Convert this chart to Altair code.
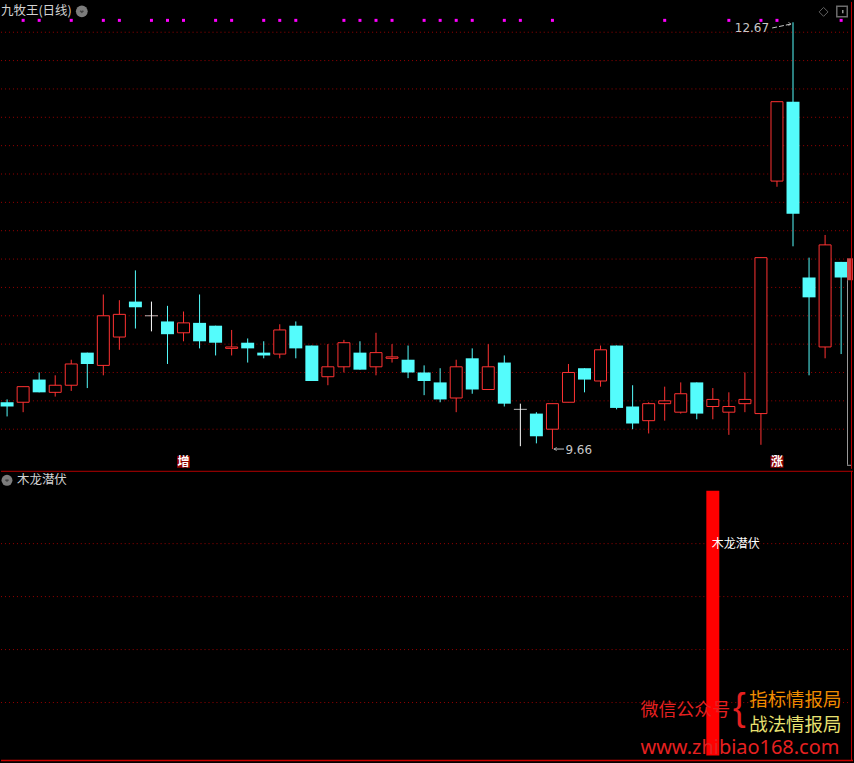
import altair as alt
import pandas as pd

# ---- daily OHLC, oldest first ----
opens = [9.99, 9.99, 10.15, 10.06, 10.11, 10.34, 10.25, 10.45, 10.70, 10.60,
         10.56, 10.48, 10.55, 10.53, 10.37, 10.41, 10.34, 10.33, 10.53, 10.39,
         10.17, 10.24, 10.34, 10.24, 10.30, 10.29, 10.20, 10.13, 10.02, 10.30,
         10.08, 10.27, 9.94, 9.91, 9.80, 9.99, 10.23, 10.14, 10.39, 9.96,
         9.86, 9.98, 9.92, 10.13, 9.96, 9.92, 9.98, 9.91, 11.55, 12.11,
         10.87, 10.38, 10.98]
highs = [10.01, 10.10, 10.20, 10.18, 10.29, 10.34, 10.75, 10.71, 10.92, 10.70,
         10.67, 10.63, 10.75, 10.53, 10.50, 10.44, 10.42, 10.54, 10.56, 10.39,
         10.40, 10.43, 10.42, 10.48, 10.40, 10.39, 10.25, 10.23, 10.29, 10.37,
         10.40, 10.32, 9.98, 9.92, 9.98, 10.26, 10.23, 10.39, 10.39, 10.11,
         9.99, 10.10, 10.13, 10.13, 10.09, 10.06, 10.20, 11.01, 12.11, 12.67,
         11.01, 11.17, 10.98]
lows = [9.89, 9.92, 10.06, 10.03, 10.07, 10.09, 10.18, 10.36, 10.51, 10.49,
        10.26, 10.42, 10.37, 10.32, 10.32, 10.27, 10.30, 10.30, 10.30, 10.14,
        10.11, 10.20, 10.22, 10.18, 10.27, 10.16, 10.04, 9.99, 9.92, 10.05,
        10.08, 9.96, 9.68, 9.70, 9.66, 9.99, 10.06, 10.10, 9.94, 9.80,
        9.77, 9.86, 9.91, 9.87, 9.87, 9.76, 9.92, 9.69, 11.51, 11.09,
        10.18, 10.30, 10.33]
closes = [9.96, 10.10, 10.06, 10.11, 10.26, 10.26, 10.60, 10.61, 10.66, 10.60,
          10.47, 10.55, 10.42, 10.41, 10.38, 10.37, 10.32, 10.50, 10.37, 10.14,
          10.24, 10.41, 10.22, 10.34, 10.31, 10.20, 10.14, 10.01, 10.24, 10.08,
          10.24, 9.98, 9.94, 9.75, 9.98, 10.20, 10.15, 10.36, 9.95, 9.84,
          9.98, 10.00, 10.05, 9.91, 10.01, 9.96, 10.01, 11.01, 12.11, 11.32,
          10.73, 11.10, 10.87]

# magenta signal row along the top of the price panel
dot_flags = [0, 1, 1, 0, 1, 0, 1, 1, 0, 1,
             1, 1, 0, 1, 1, 0, 1, 1, 1, 0,
             0, 1, 1, 1, 1, 0, 1, 1, 1, 1,
             0, 1, 1, 0, 1, 0, 0, 0, 0, 0,
             0, 1, 0, 0, 0, 1, 0, 1, 1, 0,
             0, 0, 1]

# 木龙潜伏 indicator value per day
signal_vals = [0] * 44 + [5] + [0] * 8

# tags under the candles
tag_index = [11, 48]
tag_text = ["增", "涨"]

# horizontal guide levels
price_grid = [9.8, 10.0, 10.2, 10.4, 10.6, 10.8, 11.0, 11.2, 11.4, 11.6,
              11.8, 12.0, 12.2, 12.4, 12.6]
signal_grid = [1, 2, 3, 4]

TITLE_TOP = "九牧王(日线)"
TITLE_BOT = "木龙潜伏"

W = 854
TOP_H = 468
BOT_H = 295
BASE_Y = 290  # bottom frame line of the indicator panel

UP = "#FF3232"
DOWN = "#54FCFC"
FLAT = "#FFFFFF"
GRID = "#9A0000"
LABEL = "#C8C8C8"
CJK = "Noto Sans CJK SC"

df = pd.DataFrame({
    "i": list(range(len(opens))),
    "open": opens, "high": highs, "low": lows, "close": closes,
    "dot": dot_flags, "sig": signal_vals,
})
df["dir"] = ["up" if c > o else ("down" if c < o else "flat")
             for o, c in zip(opens, closes)]

x_scale = alt.Scale(domain=[-0.38, 52.74], nice=False, zero=False, padding=0)
X = alt.X("i:Q", scale=x_scale, axis=None)
p_scale = alt.Scale(domain=[9.5206, 12.814], nice=False, zero=False, padding=0)
s_scale = alt.Scale(domain=[-0.181, 5.375], nice=False, zero=False, padding=0)
dir_color = alt.Color("dir:N", legend=None,
                      scale=alt.Scale(domain=["up", "down", "flat"], range=[UP, DOWN, FLAT]))

base = alt.Chart(df)

# ---------------- price panel ----------------
grid_top = alt.Chart(pd.DataFrame({"p": price_grid})).mark_rule(
    color=GRID, strokeWidth=1, strokeDash=[1, 3]
).encode(y=alt.Y("p:Q", scale=p_scale, axis=None), x=alt.value(0), x2=alt.value(850))

wicks = base.mark_rule(strokeWidth=1).encode(
    x=X, y=alt.Y("low:Q", scale=p_scale, axis=None), y2="high:Q", color=dir_color)

up_bodies = base.transform_filter("datum.dir == 'up'").mark_bar(
    size=12, orient="vertical", fill="#000000", stroke=UP, strokeWidth=1
).encode(x=X, y=alt.Y("open:Q", scale=p_scale, axis=None), y2="close:Q")

down_bodies = base.transform_filter("datum.dir == 'down'").mark_bar(
    size=13, orient="vertical", color=DOWN
).encode(x=X, y=alt.Y("open:Q", scale=p_scale, axis=None), y2="close:Q")

flat_bodies = base.transform_filter("datum.dir == 'flat'").mark_tick(
    orient="horizontal", size=13, thickness=1, color=FLAT
).encode(x=X, y=alt.Y("close:Q", scale=p_scale, axis=None))

dots = base.transform_filter("datum.dot == 1").mark_square(
    size=9, color="#FF00FF", opacity=1
).encode(x=X, y=alt.value(18.5))

tags_df = pd.DataFrame({"i": tag_index, "t": tag_text})
tag_box = alt.Chart(tags_df).mark_bar(size=13, orient="vertical", color="#8C0000").encode(
    x=X, y=alt.value(455), y2=alt.value(467))
tag_txt = alt.Chart(tags_df).mark_text(
    font=CJK, fontSize=12, fontWeight="bold", color="#FFFFFF", baseline="middle"
).encode(x=X, text="t:N", y=alt.value(461))

# extreme price callouts
i_hi = highs.index(max(highs))
i_lo = lows.index(min(lows))
ext = pd.DataFrame({
    "i": [i_hi, i_lo], "p": [highs[i_hi], lows[i_lo]],
    "label": [f"{highs[i_hi]:.2f}", f"{lows[i_lo]:.2f}"], "kind": ["hi", "lo"],
})
ext_base = alt.Chart(ext)
hi_text = ext_base.transform_filter("datum.kind == 'hi'").mark_text(
    align="right", baseline="middle", dx=-24, dy=6, fontSize=12, font="DejaVu Sans", color=LABEL
).encode(x=X, y=alt.Y("p:Q", scale=p_scale, axis=None), text="label:N")
hi_arrow = ext_base.transform_filter("datum.kind == 'hi'").transform_calculate(
    x0="datum.i - 1.3", x1="datum.i - 0.12", y0="datum.p - 0.04", y1="datum.p - 0.012"
).mark_rule(color=LABEL, strokeWidth=1, strokeDash=[5, 2]).encode(
    x=alt.X("x0:Q", scale=x_scale, axis=None), x2="x1:Q",
    y=alt.Y("y0:Q", scale=p_scale, axis=None), y2="y1:Q")
hi_head = ext_base.transform_filter("datum.kind == 'hi'").transform_calculate(
    x1="datum.i - 0.12", y1="datum.p - 0.012"
).mark_point(shape="M-1,-0.6L0,0L-1,0.6", size=30, filled=False, color=LABEL, strokeWidth=1).encode(
    x=alt.X("x1:Q", scale=x_scale, axis=None), y=alt.Y("y1:Q", scale=p_scale, axis=None))

lo_text = ext_base.transform_filter("datum.kind == 'lo'").mark_text(
    align="left", baseline="middle", dx=13, dy=1, fontSize=12, font="DejaVu Sans", color=LABEL
).encode(x=X, y=alt.Y("p:Q", scale=p_scale, axis=None), text="label:N")
lo_arrow = ext_base.transform_filter("datum.kind == 'lo'").transform_calculate(
    x0="datum.i + 0.08", x1="datum.i + 0.72"
).mark_rule(color=LABEL, strokeWidth=1).encode(
    x=alt.X("x0:Q", scale=x_scale, axis=None), x2="x1:Q",
    y=alt.Y("p:Q", scale=p_scale, axis=None))
lo_head = ext_base.transform_filter("datum.kind == 'lo'").transform_calculate(
    x0="datum.i + 0.1"
).mark_point(shape="M1,-0.6L0,0L1,0.6", size=30, filled=False, color=LABEL, strokeWidth=1).encode(
    x=alt.X("x0:Q", scale=x_scale, axis=None), y=alt.Y("p:Q", scale=p_scale, axis=None))

one = pd.DataFrame({"k": [0]})
ann = alt.Chart(one)

title_top = ann.mark_text(align="left", baseline="middle", font=CJK, fontSize=12.5,
                          color="#D2D2D2", text=TITLE_TOP).encode(x=alt.value(0), y=alt.value(9.5))
icon_top = ann.mark_circle(size=140, color="#7C7C7C", opacity=1).encode(
    x=alt.value(81), y=alt.value(9.5))
chev_top = ann.mark_point(shape="M-0.5,-0.2L0,0.25L0.5,-0.2", size=40, filled=False,
                          color="#2A2A2A", strokeWidth=1.6).encode(x=alt.value(81), y=alt.value(9.5))
diamond = ann.mark_point(shape="diamond", size=80, filled=False, color="#8A8A8A",
                         strokeWidth=1).encode(x=alt.value(824.5), y=alt.value(10))
box_icon = ann.mark_point(shape="square", size=110, filled=False, color="#9A9A9A",
                          strokeWidth=1.5).encode(x=alt.value(843), y=alt.value(9.7))
box_fill = ann.mark_point(shape="M0,-0.3L0.28,-0.3L0.28,0.3L0,0.3Z", size=110, filled=True,
                          color="#9A9A9A", opacity=1).encode(x=alt.value(843), y=alt.value(9.7))

right_frame = ann.mark_rule(color="#C00000", strokeWidth=1).encode(
    x=alt.value(852.5), y=alt.value(0), y2=alt.value(TOP_H))
side_box = ann.mark_rect(color="#C84646", opacity=1).encode(
    x=alt.value(848), x2=alt.value(854), y=alt.value(257), y2=alt.value(279))
side_line = ann.mark_rule(color="#9A9A9A", strokeWidth=1).encode(
    x=alt.value(848.5), y=alt.value(279), y2=alt.value(464))
side_base = ann.mark_rule(color="#9A9A9A", strokeWidth=1).encode(
    x=alt.value(848), x2=alt.value(852), y=alt.value(464.5))

top = alt.layer(
    grid_top, dots, wicks, up_bodies, down_bodies, flat_bodies,
    tag_box, tag_txt, hi_arrow, hi_head, hi_text, lo_arrow, lo_head, lo_text,
    title_top, icon_top, chev_top, diamond, box_icon, box_fill,
    side_box, side_line, side_base, right_frame,
).properties(width=W, height=TOP_H)

# ---------------- indicator panel ----------------
grid_bot = alt.Chart(pd.DataFrame({"s": signal_grid})).mark_rule(
    color=GRID, strokeWidth=1, strokeDash=[1, 3]
).encode(y=alt.Y("s:Q", scale=s_scale, axis=None), x=alt.value(0), x2=alt.value(850))

sig_bar = base.transform_filter("datum.sig > 0").mark_bar(
    size=13, orient="vertical", color="#FF0000"
).encode(x=X, y=alt.Y("sig:Q", scale=s_scale, axis=None), y2=alt.value(BASE_Y))

sig_label = base.transform_filter("datum.sig > 0").mark_text(
    align="left", baseline="middle", dx=-1, font=CJK, fontSize=12, color="#FFFFFF", text=TITLE_BOT
).encode(x=X, y=alt.value(73))

top_line = ann.mark_rule(color="#B40000", strokeWidth=1).encode(
    y=alt.value(0.5), x=alt.value(0), x2=alt.value(W))
bot_line = ann.mark_rule(color="#C80000", strokeWidth=1.5).encode(
    y=alt.value(BASE_Y + 0.5), x=alt.value(0), x2=alt.value(W))
right_frame_b = ann.mark_rule(color="#C00000", strokeWidth=1).encode(
    x=alt.value(852.5), y=alt.value(0), y2=alt.value(BASE_Y))

title_bot = ann.mark_text(align="left", baseline="middle", font=CJK, fontSize=12.5,
                          color="#D2D2D2", text=TITLE_BOT).encode(x=alt.value(16), y=alt.value(9.5))
icon_bot = ann.mark_circle(size=120, color="#7C7C7C", opacity=1).encode(
    x=alt.value(6), y=alt.value(9.5))
chev_bot = ann.mark_point(shape="M-0.5,-0.2L0,0.25L0.5,-0.2", size=35, filled=False,
                          color="#2A2A2A", strokeWidth=1.6).encode(x=alt.value(6), y=alt.value(9.5))

wm1 = ann.mark_text(align="left", baseline="middle", font=CJK, fontSize=18,
                    color="#E62020", text="微信公众号").encode(x=alt.value(641), y=alt.value(241))
wm_brace = ann.mark_text(align="center", baseline="middle", font="Liberation Sans", fontSize=38,
                         color="#E62020", text="{").encode(x=alt.value(740), y=alt.value(239))
wm2 = ann.mark_text(align="left", baseline="middle", font=CJK, fontSize=18.5,
                    color="#F08C00", text="指标情报局").encode(x=alt.value(750), y=alt.value(230))
wm3 = ann.mark_text(align="left", baseline="middle", font=CJK, fontSize=18.5,
                    color="#E8E070", text="战法情报局").encode(x=alt.value(750), y=alt.value(254.5))
wm4 = ann.mark_text(align="left", baseline="middle", font="Noto Sans", fontSize=20,
                    color="#E62020", text="www.zhibiao168.com").encode(x=alt.value(641), y=alt.value(278))

bottom = alt.layer(
    grid_bot, sig_bar, sig_label, top_line, bot_line, right_frame_b,
    title_bot, icon_bot, chev_bot, wm1, wm_brace, wm2, wm3, wm4,
).properties(width=W, height=BOT_H)

chart = alt.vconcat(top, bottom, spacing=0).resolve_scale(
    y="independent"
).properties(
    background="#000000", padding=0
).configure_view(stroke=None)

chart.save("out.html", embed_options={"renderer": "svg", "actions": False})
